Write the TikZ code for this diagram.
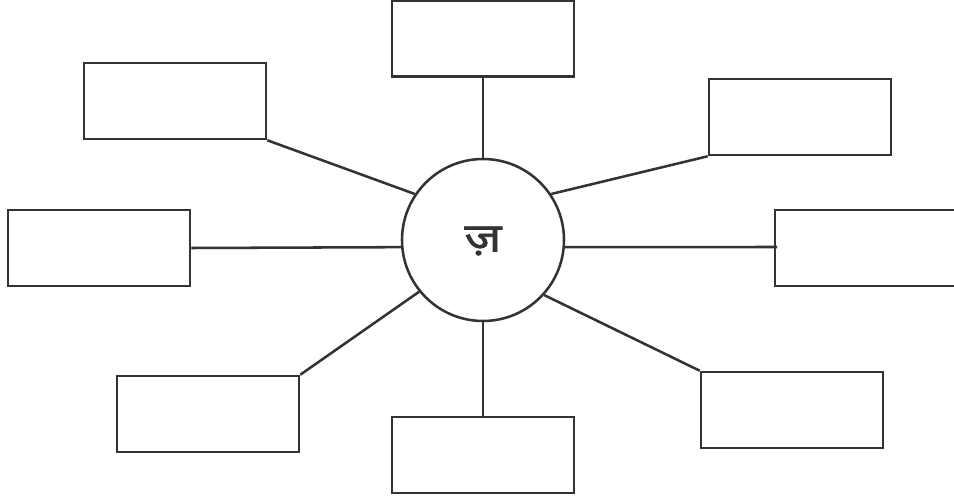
\documentclass[tikz,border=0pt]{standalone}
\usepackage{fontspec}
\newfontfamily\devfont[Script=Devanagari,FakeStretch=1.25,FakeBold=1.5]{Noto Sans}
\definecolor{ink}{HTML}{333333}
\begin{document}
\begin{tikzpicture}[x=0.75pt,y=-0.75pt,line width=1.9pt,draw=ink,
  blank/.style={draw,rectangle,minimum width=136.5pt,minimum height=57pt,inner sep=0pt},
  hub/.style={draw,circle,minimum size=121.5pt,inner sep=0pt},
  mark label/.style={text=ink,font=\devfont\fontsize{30}{36}\selectfont}]
\useasboundingbox (0,0) rectangle (954,499);
\clip (0,0) rectangle (954,499);
\fill[white] (0,0) rectangle (954,499);
\node[hub] (c) at (483,240) {};
\node[mark label] (lbl) at (483,241) {ज़};
\node[blank] (top) at (483,38.5) {};
\node[blank] (ul) at (175,101) {};
\node[blank] (ur) at (800,117) {};
\node[blank] (l) at (99,248) {};
\node[blank] (r) at (866,248) {};
\node[blank] (ll) at (208,414) {};
\node[blank] (b) at (483,455) {};
\node[blank] (lr) at (792,410) {};
\coordinate (rend) at (777,247);
\draw (top) -- (c);
\draw (ul.south east) -- (c.146);
\draw (ur.south west) -- (c.34.6);
\draw (l.east) -- (c.185);
\draw (c.355) -- (rend);
\draw (ll.north east) -- (c.219.5);
\draw (c) -- (b);
\draw (c.318.4) -- (lr.north west);
\end{tikzpicture}
\end{document}
